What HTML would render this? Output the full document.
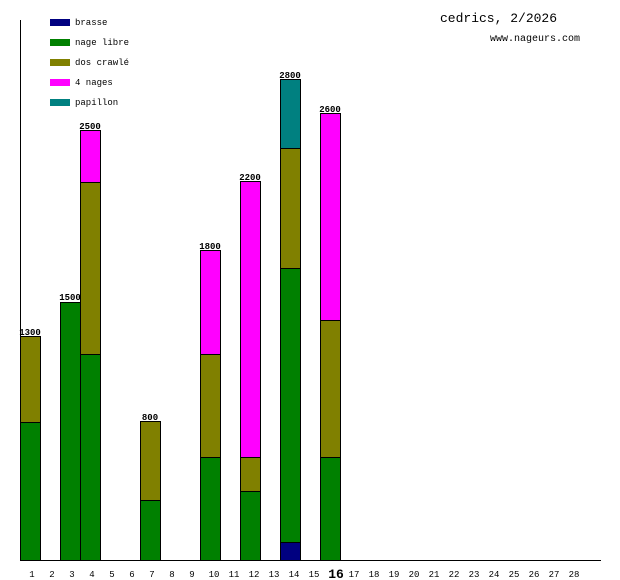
<!DOCTYPE html>
<html><head><style>body{margin:0;background:#fff}svg{display:block}text{font-family:"Liberation Mono","DejaVu Sans Mono",monospace}</style></head><body>
<svg width="620" height="580" xmlns="http://www.w3.org/2000/svg">
<line x1="20.5" y1="20" x2="20.5" y2="561" stroke="#000"/>
<line x1="20" y1="560.5" x2="601" y2="560.5" stroke="#000"/>
<g font-size="9">
<rect x="50" y="19" width="20" height="7" fill="#000080"/><text x="75" y="25">brasse</text>
<rect x="50" y="39" width="20" height="7" fill="#008000"/><text x="75" y="45">nage libre</text>
<rect x="50" y="59" width="20" height="7" fill="#808000"/><text x="75" y="65">dos crawlé</text>
<rect x="50" y="79" width="20" height="7" fill="#ff00ff"/><text x="75" y="85">4 nages</text>
<rect x="50" y="99" width="20" height="7" fill="#008080"/><text x="75" y="105">papillon</text>
</g>
<text x="440" y="22" font-size="13">cedrics, 2/2026</text>
<text x="490" y="41" font-size="10">www.nageurs.com</text>
<g stroke="#000" stroke-width="1">
<rect x="20.5" y="422.5" width="20" height="138" fill="#008000"/>
<rect x="20.5" y="336.5" width="20" height="86" fill="#808000"/>
<rect x="60.5" y="302.5" width="20" height="258" fill="#008000"/>
<rect x="80.5" y="354.5" width="20" height="206" fill="#008000"/>
<rect x="80.5" y="182.5" width="20" height="172" fill="#808000"/>
<rect x="80.5" y="130.5" width="20" height="52" fill="#ff00ff"/>
<rect x="140.5" y="500.5" width="20" height="60" fill="#008000"/>
<rect x="140.5" y="421.5" width="20" height="79" fill="#808000"/>
<rect x="200.5" y="457.5" width="20" height="103" fill="#008000"/>
<rect x="200.5" y="354.5" width="20" height="103" fill="#808000"/>
<rect x="200.5" y="250.5" width="20" height="104" fill="#ff00ff"/>
<rect x="240.5" y="491.5" width="20" height="69" fill="#008000"/>
<rect x="240.5" y="457.5" width="20" height="34" fill="#808000"/>
<rect x="240.5" y="181.5" width="20" height="276" fill="#ff00ff"/>
<rect x="280.5" y="542.5" width="20" height="18" fill="#000080"/>
<rect x="280.5" y="268.5" width="20" height="274" fill="#008000"/>
<rect x="280.5" y="148.5" width="20" height="120" fill="#808000"/>
<rect x="280.5" y="79.5" width="20" height="69" fill="#008080"/>
<rect x="320.5" y="457.5" width="20" height="103" fill="#008000"/>
<rect x="320.5" y="320.5" width="20" height="137" fill="#808000"/>
<rect x="320.5" y="113.5" width="20" height="207" fill="#ff00ff"/>
</g>
<g font-size="9" text-anchor="middle" font-weight="bold">
<text x="30" y="335">1300</text><text x="70" y="300">1500</text><text x="90" y="129">2500</text>
<text x="150" y="420">800</text><text x="210" y="249">1800</text><text x="250" y="180">2200</text>
<text x="290" y="78">2800</text><text x="330" y="112">2600</text>
</g>
<g font-size="9" text-anchor="middle">
<text x="32" y="577">1</text><text x="52" y="577">2</text><text x="72" y="577">3</text><text x="92" y="577">4</text>
<text x="112" y="577">5</text><text x="132" y="577">6</text><text x="152" y="577">7</text><text x="172" y="577">8</text>
<text x="192" y="577">9</text><text x="214" y="577">10</text><text x="234" y="577">11</text><text x="254" y="577">12</text>
<text x="274" y="577">13</text><text x="294" y="577">14</text><text x="314" y="577">15</text>
<text x="336" y="578" font-size="13" font-weight="bold">16</text>
<text x="354" y="577">17</text><text x="374" y="577">18</text><text x="394" y="577">19</text><text x="414" y="577">20</text>
<text x="434" y="577">21</text><text x="454" y="577">22</text><text x="474" y="577">23</text><text x="494" y="577">24</text>
<text x="514" y="577">25</text><text x="534" y="577">26</text><text x="554" y="577">27</text><text x="574" y="577">28</text>
</g>
</svg>
</body></html>
